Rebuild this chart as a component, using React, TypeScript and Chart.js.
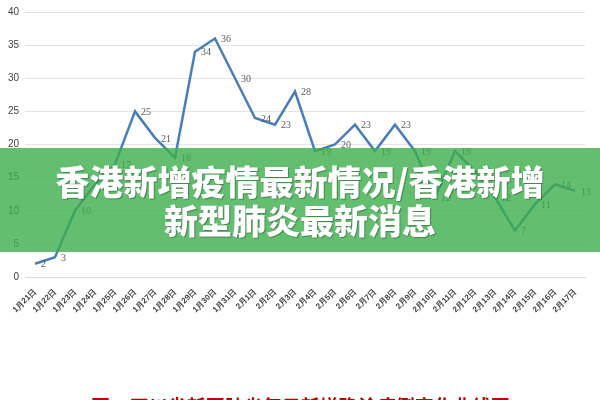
import React, { useEffect, useRef } from "react";
import { Chart, registerables } from "chart.js";

Chart.register(...registerables);

const categories = [
  "1月21日", "1月22日", "1月23日", "1月24日", "1月25日", "1月26日", "1月27日",
  "1月28日", "1月29日", "1月30日", "1月31日", "2月1日", "2月2日", "2月3日",
  "2月4日", "2月5日", "2月6日", "2月7日", "2月8日", "2月9日", "2月10日",
  "2月11日", "2月12日", "2月13日", "2月14日", "2月15日", "2月16日", "2月17日",
];
const newCases = [2, 3, 10, 14, 17, 25, 21, 18, 34, 36, 30, 24, 23, 28, 19, 20, 23, 19, 23, 19, 12, 19, 16, 12, 7, 11, 14, 13];
const yTicks = [0, 5, 10, 15, 20, 25, 30, 35, 40];
const bannerLines = ["香港新增疫情最新情况/香港新增", "新型肺炎最新消息"];
const captionText = "图2  四川省新冠肺炎每日新增确诊病例变化曲线图";

const labelPlugin = {
  id: "pointLabels",
  afterDatasetsDraw(chart: any) {
    const ctx = chart.ctx;
    const meta = chart.getDatasetMeta(0);
    ctx.save();
    ctx.font = "10px 'Liberation Serif'";
    ctx.fillStyle = "#595959";
    ctx.textBaseline = "middle";
    ctx.textAlign = "left";
    meta.data.forEach((pt: any, i: number) => {
      ctx.fillText(String(newCases[i]), pt.x + 6, pt.y + 1);
    });
    ctx.restore();
  },
};

export default function App() {
  const ref = useRef<HTMLCanvasElement>(null);
  useEffect(() => {
    if (!ref.current) return;
    const chart = new Chart(ref.current, {
      type: "line",
      data: {
        labels: categories,
        datasets: [
          {
            data: newCases,
            borderColor: "#4a7ebb",
            borderWidth: 2.5,
            pointRadius: 0,
            tension: 0,
            fill: false,
          },
        ],
      },
      options: {
        animation: false,
        responsive: false,
        layout: { padding: { top: 6, right: 15, bottom: 83, left: 0 } },
        plugins: { legend: { display: false }, tooltip: { enabled: false } },
        scales: {
          x: {
            offset: true,
            grid: { display: false, drawTicks: true },
            border: { display: true, color: "#d9d9d9" },
            ticks: {
              autoSkip: false,
              minRotation: 45,
              maxRotation: 45,
              color: "#404040",
              font: { family: "'Liberation Sans'", size: 8, weight: "bold" },
              padding: 2,
            },
            afterFit: (s: any) => {
              s.height = 40;
            },
          },
          y: {
            min: 0,
            max: 40,
            afterBuildTicks: (s: any) => {
              s.ticks = yTicks.map((v) => ({ value: v }));
            },
            grid: { color: "#e3e3e3", drawTicks: false },
            border: { display: false },
            ticks: {
              color: "#404040",
              font: { family: "'Liberation Sans'", size: 10 },
              padding: 6,
            },
            afterFit: (s: any) => {
              s.width = 25;
            },
          },
        },
      },
      plugins: [labelPlugin],
    });
    return () => chart.destroy();
  }, []);

  return (
    <div
      style={{
        position: "fixed",
        left: 0,
        top: 0,
        width: 600,
        height: 400,
        overflow: "hidden",
        background: "#fff",
      }}
    >
      <canvas ref={ref} width={600} height={400} style={{ position: "absolute", left: 0, top: 0 }} />
      <div
        style={{
          position: "absolute",
          left: 0,
          top: 148,
          width: 600,
          height: 104,
          background: "rgba(60,174,76,0.8)",
          boxSizing: "border-box",
          paddingTop: 13,
          textAlign: "center",
          color: "#fff",
          fontFamily: "'Noto Sans CJK SC', sans-serif",
          fontWeight: 900,
          fontSize: 34,
          lineHeight: "39px",
          textShadow: "1px 1px 1px rgba(0,0,0,0.3)",
        }}
      >
        {bannerLines.map((l, i) => (
          <div key={i}>{l}</div>
        ))}
      </div>
      <div
        style={{
          position: "absolute",
          left: 91,
          top: 396,
          whiteSpace: "pre",
          color: "#c00000",
          fontFamily: "'Noto Sans CJK SC', sans-serif",
          fontWeight: 700,
          fontSize: 19,
          lineHeight: "19px",
        }}
      >
        {captionText}
      </div>
    </div>
  );
}
